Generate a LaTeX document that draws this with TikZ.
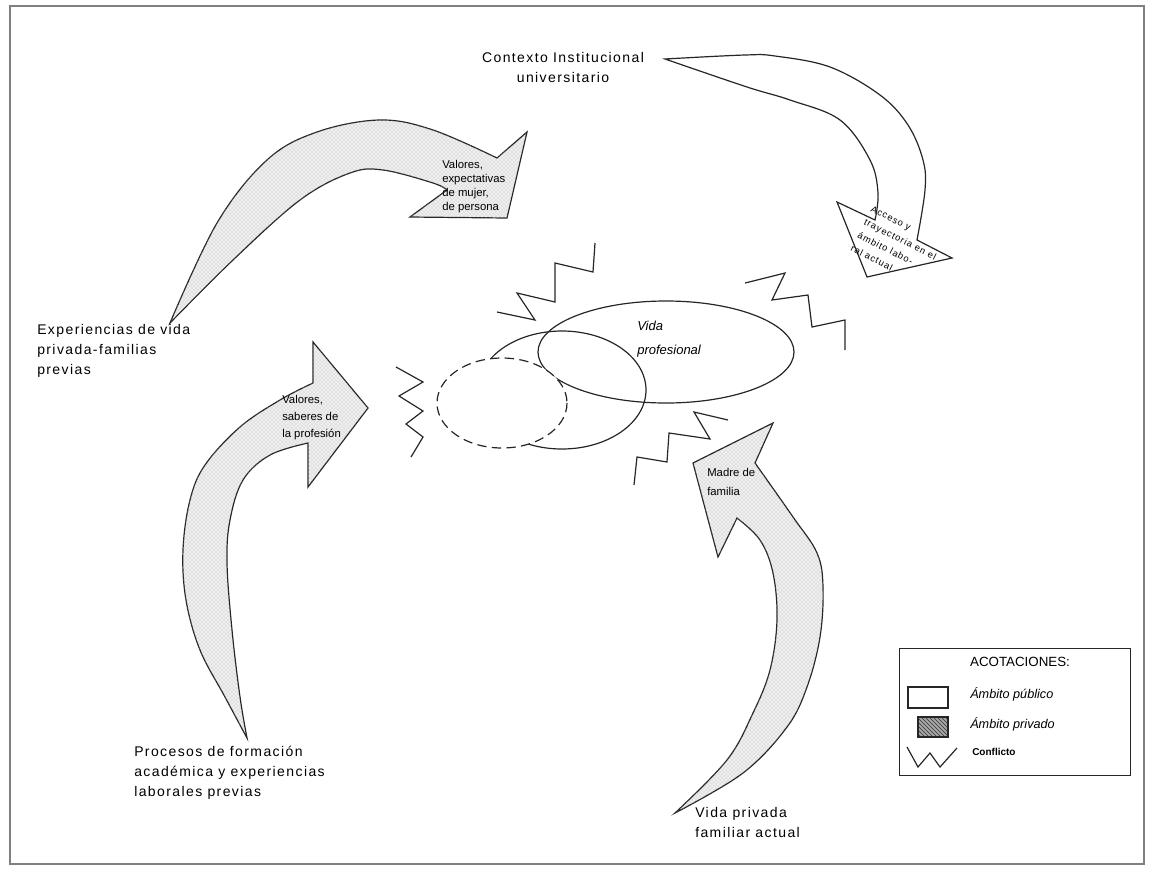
\documentclass[tikz,border=0pt]{standalone}
\usepackage{fontspec}
\setmainfont{Liberation Sans}
\newfontfamily\lblfont[LetterSpace=10]{Liberation Sans}
\newfontfamily\smfont{Liberation Sans}
\usetikzlibrary{patterns}
\begin{document}
\begin{tikzpicture}[x=0.75pt,y=-0.75pt,
  lbl/.style={font=\lblfont\fontsize{10.5}{15}\selectfont, align=left, inner sep=0pt},
  smalltext/.style={font=\smfont\fontsize{8.5}{10.5}\selectfont, align=left, inner sep=0pt},
  stip/.style={draw=black!85, line width=0.9pt, fill=black!6, line join=miter,
    postaction={pattern=crosshatch dots, pattern color=black!32}},
  plainarrow/.style={draw=black!85, line width=0.9pt, fill=white, line join=miter},
  zig/.style={draw=black!85, line width=0.9pt, line join=miter},
  ell/.style={draw=black!85, line width=0.9pt}]
\useasboundingbox (0,0) rectangle (1150,872);
\draw[draw=black!50, line width=1.4pt] (10,6) rectangle (1144,864);

% arrow 1 (top left)
\path[stip] plot[smooth,tension=0.6] coordinates {(170,323) (217,223) (267,160) (317,132) (380,120) (433,130) (497,158)}
  -- (527,132) -- (507,218) -- (410,217) -- (447,190)
  -- plot[smooth,tension=0.6] coordinates {(447,190) (433,183) (383,170) (350,173) (300,200) (233,260) (170,323)} -- cycle;

% arrow 2 (top right)
\path[plainarrow] plot[smooth,tension=0.6] coordinates {(665,59) (745,55) (775,56) (830,67) (880,95) (908,125) (923,160) (925,190) (917,240)}
  -- (952,258) -- (867,277) -- (837,202) -- (875,220)
  -- plot[smooth,tension=0.6] coordinates {(875,220) (878,193) (870,160) (840,120) (790,100) (747,87) (665,59)} -- cycle;

% arrow 3 (left)
\path[stip] plot[smooth,tension=0.6] coordinates {(247,738) (225,697) (200,650) (186,600) (183,550) (190,500) (205,465) (240,427) (280,400) (313,383)}
  -- (313,342) -- (368,408) -- (308,487) -- (308,443)
  -- plot[smooth,tension=0.6] coordinates {(308,443) (270,455) (243,480) (230,520) (227,563) (232,630) (240,697) (247,738)} -- cycle;

% arrow 4 (bottom right)
\path[stip] plot[smooth,tension=0.6] coordinates {(675,813) (743,773) (787,727) (807,687) (820,637) (823,587) (817,553) (793,517) (755,463)}
  -- (773,423) -- (693,463) -- (718,557) -- (737,518)
  -- plot[smooth,tension=0.6] coordinates {(737,518) (760,540) (773,573) (777,620) (770,670) (753,713) (727,760) (675,813)} -- cycle;

% ellipses
\draw[ell] (562,390) ellipse [x radius=84, y radius=59];
\draw[ell] (666,352) ellipse [x radius=128, y radius=51];
\draw[ell, dashed, dash pattern=on 7pt off 4pt, fill=white] (502,403) ellipse [x radius=65, y radius=45];

% conflict zigzags
\draw[zig] (497,312) -- (535,320) -- (517,293) -- (555,302) -- (555,263) -- (593,272) -- (595,243);
\draw[zig] (745,283) -- (785,273) -- (772,300) -- (808,295) -- (812,327) -- (845,320) -- (845,350);
\draw[zig] (396,367) -- (423,382) -- (399,396) -- (423,411) -- (406,424) -- (423,437) -- (411,457);
\draw[zig] (728,420) -- (694,412) -- (710,439) -- (669,433) -- (667,462) -- (637,457) -- (634,485);

% labels
\node[lbl, anchor=north, align=center] (ctx) at (563,52) {Contexto Institucional\\universitario};
\node[lbl, anchor=north west] (exp) at (37,324) {Experiencias de vida\\privada-familias\\previas};
\node[lbl, anchor=north west] (proc) at (134,746) {Procesos de formación\\académica y experiencias\\laborales previas};
\node[lbl, anchor=north west] (vpa) at (695,807) {Vida privada\\familiar actual};
\node[font=\itshape\fontsize{9.75}{18}\selectfont, align=left, inner sep=0pt, anchor=north west] (vprof) at (637,321) {Vida\\profesional};

\node[smalltext, anchor=north west] (t1) at (442,160) {Valores,\\expectativas\\de mujer,\\de persona};
\node[smalltext, anchor=north west, font=\smfont\fontsize{8.5}{12.8}\selectfont] (t3) at (282,395) {Valores,\\saberes de\\la profesión};
\node[smalltext, anchor=north west, font=\smfont\fontsize{8.5}{14}\selectfont] (t4) at (707,468) {Madre de\\familia};
\node[smalltext, rotate=-27, font=\lblfont\fontsize{7}{11}\selectfont] (t2) at (897,246) {Acceso y\\trayectoria en el\\ámbito labo-\\ral actual};

% legend
\node[draw=black!85, line width=1pt, minimum width=231*0.75pt, minimum height=127*0.75pt, inner sep=0pt, anchor=north west] (leg) at (899,648) {};
\node[font=\fontsize{10}{12}\selectfont, inner sep=0pt] (legt) at (1020,662) {ACOTACIONES:};
\draw[draw=black!85, line width=0.9pt, fill=white] (908,687) rectangle (948,708);
\fill[black!35] (918,717) rectangle (948,737);
\path[pattern=north west lines, pattern color=black!80] (918,717) rectangle (948,737);
\draw[draw=black!85, line width=0.9pt] (918,717) rectangle (948,737);
\draw[zig] (907,747) -- (918,767) -- (930,753) -- (940,767) -- (957,748);
\node[font=\itshape\fontsize{9.5}{12}\selectfont, anchor=west, inner sep=0pt] (lpub) at (970,694) {Ámbito público};
\node[font=\itshape\fontsize{9.5}{12}\selectfont, anchor=west, inner sep=0pt] (lpriv) at (970,724) {Ámbito privado};
\node[font=\bfseries\fontsize{7.5}{9}\selectfont, anchor=west, inner sep=0pt] (lconf) at (972,752) {Conflicto};
\end{tikzpicture}
\end{document}
